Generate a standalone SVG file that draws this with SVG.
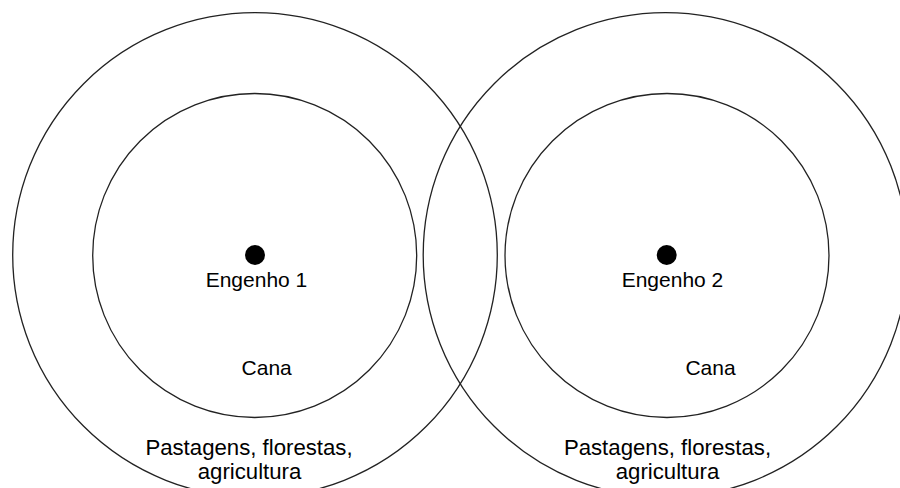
<svg xmlns="http://www.w3.org/2000/svg" width="900" height="488" viewBox="0 0 900 488">
  <style>
    .ring { fill: none; stroke: #222; stroke-width: 1.3; }
    .mill { fill: #000; }
    .lbl { font-family: "Liberation Sans", Arial, sans-serif; font-size: 21px; fill: #000; text-anchor: middle; }
    .belt { font-size: 22.2px; }
  </style>
  <rect width="900" height="488" fill="#fff"/>

  <!-- outer rings: pasture, forest and farm belt -->
  <g id="belt-1"><circle class="ring" cx="255" cy="255" r="242.3"/></g>
  <g id="belt-2"><circle class="ring" cx="665.5" cy="255" r="242.3"/></g>

  <!-- inner rings: cane fields -->
  <g id="cane-1"><circle class="ring" cx="254.7" cy="255.5" r="162"/></g>
  <g id="cane-2"><circle class="ring" cx="667" cy="255.5" r="162"/></g>

  <!-- mills -->
  <g id="engenho-1">
    <circle class="mill" cx="255" cy="255" r="10"/>
    <text class="lbl" x="256.5" y="287">Engenho 1</text>
  </g>
  <g id="engenho-2">
    <circle class="mill" cx="666.7" cy="255" r="10"/>
    <text class="lbl" x="672.5" y="287">Engenho 2</text>
  </g>

  <!-- zone labels -->
  <g id="labels-1">
    <text class="lbl" x="266.7" y="374.5">Cana</text>
    <text class="lbl belt" x="249" y="455">Pastagens, florestas,</text>
    <text class="lbl belt" x="249.5" y="479">agricultura</text>
  </g>
  <g id="labels-2">
    <text class="lbl" x="710.5" y="374.5">Cana</text>
    <text class="lbl belt" x="667.5" y="455">Pastagens, florestas,</text>
    <text class="lbl belt" x="667.5" y="479">agricultura</text>
  </g>
</svg>
